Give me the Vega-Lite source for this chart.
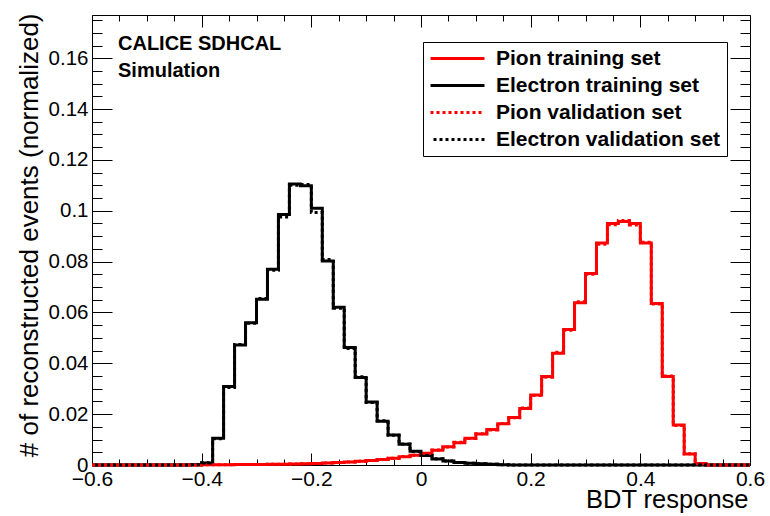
{
  "$schema": "https://vega.github.io/schema/vega-lite/v6.json",
  "width": 658,
  "height": 450,
  "autosize": {"type": "none"},
  "padding": {"left": 92, "top": 15, "right": 20, "bottom": 51},
  "background": "white",
  "config": {
    "view": {"stroke": "black", "strokeWidth": 1},
    "font": "Liberation Sans"
  },
  "data": {
    "values": [
      {"x": -0.60, "Pion training set": 0, "Electron training set": 0, "Pion validation set": 0, "Electron validation set": 0},
      {"x": -0.58, "Pion training set": 0, "Electron training set": 0, "Pion validation set": 0, "Electron validation set": 0},
      {"x": -0.56, "Pion training set": 0, "Electron training set": 0, "Pion validation set": 0, "Electron validation set": 0},
      {"x": -0.54, "Pion training set": 0, "Electron training set": 0, "Pion validation set": 0, "Electron validation set": 0},
      {"x": -0.52, "Pion training set": 0, "Electron training set": 0, "Pion validation set": 0, "Electron validation set": 0},
      {"x": -0.50, "Pion training set": 0, "Electron training set": 0, "Pion validation set": 0, "Electron validation set": 0},
      {"x": -0.48, "Pion training set": 0, "Electron training set": 0, "Pion validation set": 0, "Electron validation set": 0},
      {"x": -0.46, "Pion training set": 0, "Electron training set": 0, "Pion validation set": 0, "Electron validation set": 0},
      {"x": -0.44, "Pion training set": 0, "Electron training set": 0, "Pion validation set": 0, "Electron validation set": 0},
      {"x": -0.42, "Pion training set": 0, "Electron training set": 0.0001, "Pion validation set": 0, "Electron validation set": 0.0001},
      {"x": -0.40, "Pion training set": 0.0001, "Electron training set": 0.0008, "Pion validation set": 0.0001, "Electron validation set": 0.0009},
      {"x": -0.38, "Pion training set": 0.0001, "Electron training set": 0.0105, "Pion validation set": 0.0001, "Electron validation set": 0.0103},
      {"x": -0.36, "Pion training set": 0.0001, "Electron training set": 0.0309, "Pion validation set": 0.0001, "Electron validation set": 0.0305},
      {"x": -0.34, "Pion training set": 0.0002, "Electron training set": 0.0472, "Pion validation set": 0.0002, "Electron validation set": 0.0474},
      {"x": -0.32, "Pion training set": 0.0002, "Electron training set": 0.0560, "Pion validation set": 0.0002, "Electron validation set": 0.0558},
      {"x": -0.30, "Pion training set": 0.0002, "Electron training set": 0.0652, "Pion validation set": 0.0002, "Electron validation set": 0.0655},
      {"x": -0.28, "Pion training set": 0.0003, "Electron training set": 0.0770, "Pion validation set": 0.0003, "Electron validation set": 0.0766},
      {"x": -0.26, "Pion training set": 0.0003, "Electron training set": 0.0985, "Pion validation set": 0.0003, "Electron validation set": 0.0975},
      {"x": -0.24, "Pion training set": 0.0004, "Electron training set": 0.1105, "Pion validation set": 0.0004, "Electron validation set": 0.1100},
      {"x": -0.22, "Pion training set": 0.0005, "Electron training set": 0.1098, "Pion validation set": 0.0005, "Electron validation set": 0.1103},
      {"x": -0.20, "Pion training set": 0.0006, "Electron training set": 0.1010, "Pion validation set": 0.0006, "Electron validation set": 0.0993},
      {"x": -0.18, "Pion training set": 0.0008, "Electron training set": 0.0802, "Pion validation set": 0.0008, "Electron validation set": 0.0808},
      {"x": -0.16, "Pion training set": 0.0010, "Electron training set": 0.0620, "Pion validation set": 0.0010, "Electron validation set": 0.0617},
      {"x": -0.14, "Pion training set": 0.0012, "Electron training set": 0.0462, "Pion validation set": 0.0012, "Electron validation set": 0.0458},
      {"x": -0.12, "Pion training set": 0.0015, "Electron training set": 0.0344, "Pion validation set": 0.0015, "Electron validation set": 0.0347},
      {"x": -0.10, "Pion training set": 0.0018, "Electron training set": 0.0248, "Pion validation set": 0.0018, "Electron validation set": 0.0246},
      {"x": -0.08, "Pion training set": 0.0022, "Electron training set": 0.0172, "Pion validation set": 0.0022, "Electron validation set": 0.0174},
      {"x": -0.06, "Pion training set": 0.0027, "Electron training set": 0.0118, "Pion validation set": 0.0027, "Electron validation set": 0.0117},
      {"x": -0.04, "Pion training set": 0.0032, "Electron training set": 0.0082, "Pion validation set": 0.0033, "Electron validation set": 0.0083},
      {"x": -0.02, "Pion training set": 0.0038, "Electron training set": 0.0054, "Pion validation set": 0.0038, "Electron validation set": 0.0053},
      {"x": 0.00, "Pion training set": 0.0046, "Electron training set": 0.0037, "Pion validation set": 0.0045, "Electron validation set": 0.0037},
      {"x": 0.02, "Pion training set": 0.0058, "Electron training set": 0.0024, "Pion validation set": 0.0059, "Electron validation set": 0.0025},
      {"x": 0.04, "Pion training set": 0.0072, "Electron training set": 0.0016, "Pion validation set": 0.0071, "Electron validation set": 0.0016},
      {"x": 0.06, "Pion training set": 0.0088, "Electron training set": 0.0010, "Pion validation set": 0.0089, "Electron validation set": 0.0010},
      {"x": 0.08, "Pion training set": 0.0105, "Electron training set": 0.0007, "Pion validation set": 0.0104, "Electron validation set": 0.0007},
      {"x": 0.10, "Pion training set": 0.0122, "Electron training set": 0.0005, "Pion validation set": 0.0123, "Electron validation set": 0.0005},
      {"x": 0.12, "Pion training set": 0.0140, "Electron training set": 0.0003, "Pion validation set": 0.0138, "Electron validation set": 0.0003},
      {"x": 0.14, "Pion training set": 0.0162, "Electron training set": 0.0001, "Pion validation set": 0.0163, "Electron validation set": 0.0001},
      {"x": 0.16, "Pion training set": 0.0187, "Electron training set": 0, "Pion validation set": 0.0186, "Electron validation set": 0},
      {"x": 0.18, "Pion training set": 0.0222, "Electron training set": 0, "Pion validation set": 0.0224, "Electron validation set": 0},
      {"x": 0.20, "Pion training set": 0.0275, "Electron training set": 0, "Pion validation set": 0.0273, "Electron validation set": 0},
      {"x": 0.22, "Pion training set": 0.0348, "Electron training set": 0, "Pion validation set": 0.0345, "Electron validation set": 0},
      {"x": 0.24, "Pion training set": 0.0440, "Electron training set": 0, "Pion validation set": 0.0443, "Electron validation set": 0},
      {"x": 0.26, "Pion training set": 0.0533, "Electron training set": 0, "Pion validation set": 0.0530, "Electron validation set": 0},
      {"x": 0.28, "Pion training set": 0.0638, "Electron training set": 0, "Pion validation set": 0.0642, "Electron validation set": 0},
      {"x": 0.30, "Pion training set": 0.0753, "Electron training set": 0, "Pion validation set": 0.0750, "Electron validation set": 0},
      {"x": 0.32, "Pion training set": 0.0873, "Electron training set": 0, "Pion validation set": 0.0868, "Electron validation set": 0},
      {"x": 0.34, "Pion training set": 0.0950, "Electron training set": 0, "Pion validation set": 0.0945, "Electron validation set": 0},
      {"x": 0.36, "Pion training set": 0.0958, "Electron training set": 0, "Pion validation set": 0.0962, "Electron validation set": 0},
      {"x": 0.38, "Pion training set": 0.0950, "Electron training set": 0, "Pion validation set": 0.0944, "Electron validation set": 0},
      {"x": 0.40, "Pion training set": 0.0873, "Electron training set": 0, "Pion validation set": 0.0876, "Electron validation set": 0},
      {"x": 0.42, "Pion training set": 0.0635, "Electron training set": 0, "Pion validation set": 0.0633, "Electron validation set": 0},
      {"x": 0.44, "Pion training set": 0.0348, "Electron training set": 0, "Pion validation set": 0.0350, "Electron validation set": 0},
      {"x": 0.46, "Pion training set": 0.0157, "Electron training set": 0, "Pion validation set": 0.0155, "Electron validation set": 0},
      {"x": 0.48, "Pion training set": 0.0043, "Electron training set": 0, "Pion validation set": 0.0044, "Electron validation set": 0},
      {"x": 0.50, "Pion training set": 0.0006, "Electron training set": 0, "Pion validation set": 0.0005, "Electron validation set": 0},
      {"x": 0.52, "Pion training set": 0, "Electron training set": 0, "Pion validation set": 0, "Electron validation set": 0},
      {"x": 0.54, "Pion training set": 0, "Electron training set": 0, "Pion validation set": 0, "Electron validation set": 0},
      {"x": 0.56, "Pion training set": 0, "Electron training set": 0, "Pion validation set": 0, "Electron validation set": 0},
      {"x": 0.58, "Pion training set": 0, "Electron training set": 0, "Pion validation set": 0, "Electron validation set": 0},
      {"x": 0.60, "Pion training set": 0, "Electron training set": 0, "Pion validation set": 0, "Electron validation set": 0}
    ]
  },
  "layer": [
    {
      "transform": [
        {"fold": ["Pion training set", "Electron training set", "Pion validation set", "Electron validation set"], "as": ["set", "value"]}
      ],
      "mark": {"type": "line", "interpolate": "step-after", "strokeWidth": 3},
      "encoding": {
        "x": {
          "field": "x", "type": "quantitative",
          "scale": {"domain": [-0.6, 0.6], "nice": false, "zero": false},
          "axis": {
            "orient": "bottom",
            "values": [-0.6, -0.55, -0.5, -0.45, -0.4, -0.35, -0.3, -0.25, -0.2, -0.15, -0.1, -0.05, 0, 0.05, 0.1, 0.15, 0.2, 0.25, 0.3, 0.35, 0.4, 0.45, 0.5, 0.55, 0.6],
            "domain": false, "grid": false,
            "tickColor": "black", "tickWidth": 1,
            "tickSize": {"condition": {"test": "abs(datum.value*5 - round(datum.value*5)) < 1e-6", "value": -12}, "value": -6},
            "labelExpr": "abs(datum.value*5 - round(datum.value*5)) < 1e-6 ? format(datum.value, '~g') : ''",
            "labelOverlap": false, "labelFlush": false,
            "labelFont": "Liberation Sans", "labelFontSize": 21, "labelColor": "black",
            "labelPadding": 15,
            "title": "BDT response",
            "titleFont": "Liberation Sans", "titleFontSize": 25.5, "titleFontWeight": "normal", "titleColor": "black",
            "titleAnchor": null, "titleAlign": "right", "titleBaseline": "alphabetic",
            "titleX": 656, "titleY": 42
          }
        },
        "y": {
          "field": "value", "type": "quantitative",
          "scale": {"domain": [0, 0.177], "nice": false},
          "axis": {
            "orient": "left",
            "values": [0, 0.005, 0.01, 0.015, 0.02, 0.025, 0.03, 0.035, 0.04, 0.045, 0.05, 0.055, 0.06, 0.065, 0.07, 0.075, 0.08, 0.085, 0.09, 0.095, 0.1, 0.105, 0.11, 0.115, 0.12, 0.125, 0.13, 0.135, 0.14, 0.145, 0.15, 0.155, 0.16, 0.165, 0.17, 0.175],
            "domain": false, "grid": false,
            "tickColor": "black", "tickWidth": 1,
            "tickSize": {"condition": {"test": "abs(datum.value*50 - round(datum.value*50)) < 1e-6", "value": -20}, "value": -10},
            "labelExpr": "abs(datum.value*50 - round(datum.value*50)) < 1e-6 ? format(datum.value, '~g') : ''",
            "labelOverlap": false, "labelFlush": false,
            "labelFont": "Liberation Sans", "labelFontSize": 20.5, "labelColor": "black",
            "labelPadding": 24,
            "title": "# of reconstructed events (normalized)",
            "titleFont": "Liberation Sans", "titleFontSize": 26, "titleFontWeight": "normal", "titleColor": "black",
            "titleAnchor": null, "titleAngle": -90, "titleAlign": "right", "titleBaseline": "alphabetic",
            "titleX": -55, "titleY": -2
          }
        },
        "color": {
          "field": "set", "type": "nominal",
          "scale": {
            "domain": ["Pion training set", "Electron training set", "Pion validation set", "Electron validation set"],
            "range": ["#ff0000", "#000000", "#ff0000", "#000000"]
          },
          "legend": {
            "title": null, "orient": "none", "legendX": 331, "legendY": 27,
            "symbolType": "M-3,0H3", "symbolSize": 324, "symbolStrokeWidth": 3, "symbolOffset": 18,
            "labelFont": "Liberation Sans", "labelFontSize": 21, "labelFontWeight": "bold", "labelColor": "black",
            "labelLimit": 400, "labelOffset": 28, "rowPadding": 5,
            "strokeColor": "black", "fillColor": "white", "padding": 6
          }
        },
        "strokeDash": {
          "field": "set", "type": "nominal",
          "scale": {
            "domain": ["Pion training set", "Electron training set", "Pion validation set", "Electron validation set"],
            "range": [[1, 0], [1, 0], [3, 3], [0, 3, 3, 0]]
          },
          "legend": {
            "title": null, "orient": "none", "legendX": 331, "legendY": 27,
            "symbolType": "M-3,0H3", "symbolSize": 324, "symbolStrokeWidth": 3, "symbolOffset": 18,
            "labelFont": "Liberation Sans", "labelFontSize": 21, "labelFontWeight": "bold", "labelColor": "black",
            "labelLimit": 400, "labelOffset": 28, "rowPadding": 5,
            "strokeColor": "black", "fillColor": "white", "padding": 6
          }
        }
      }
    },
    {
      "data": {"values": [{}]},
      "mark": {"type": "text", "align": "left", "baseline": "alphabetic", "font": "Liberation Sans", "fontSize": 20, "fontWeight": "bold", "color": "black", "lineHeight": 27},
      "encoding": {
        "x": {
          "datum": -0.5526, "type": "quantitative",
          "axis": {
            "orient": "top",
            "values": [-0.6, -0.55, -0.5, -0.45, -0.4, -0.35, -0.3, -0.25, -0.2, -0.15, -0.1, -0.05, 0, 0.05, 0.1, 0.15, 0.2, 0.25, 0.3, 0.35, 0.4, 0.45, 0.5, 0.55, 0.6],
            "domain": false, "grid": false, "labels": false, "title": null,
            "tickColor": "black", "tickWidth": 1,
            "tickSize": {"condition": {"test": "abs(datum.value*5 - round(datum.value*5)) < 1e-6", "value": -12}, "value": -6}
          }
        },
        "y": {
          "datum": 0.1634, "type": "quantitative",
          "axis": {
            "orient": "right",
            "values": [0, 0.005, 0.01, 0.015, 0.02, 0.025, 0.03, 0.035, 0.04, 0.045, 0.05, 0.055, 0.06, 0.065, 0.07, 0.075, 0.08, 0.085, 0.09, 0.095, 0.1, 0.105, 0.11, 0.115, 0.12, 0.125, 0.13, 0.135, 0.14, 0.145, 0.15, 0.155, 0.16, 0.165, 0.17, 0.175],
            "domain": false, "grid": false, "labels": false, "title": null,
            "tickColor": "black", "tickWidth": 1,
            "tickSize": {"condition": {"test": "abs(datum.value*50 - round(datum.value*50)) < 1e-6", "value": -20}, "value": -10}
          }
        },
        "text": {"value": ["CALICE SDHCAL", "Simulation"]}
      }
    }
  ],
  "resolve": {"axis": {"x": "independent", "y": "independent"}}
}
